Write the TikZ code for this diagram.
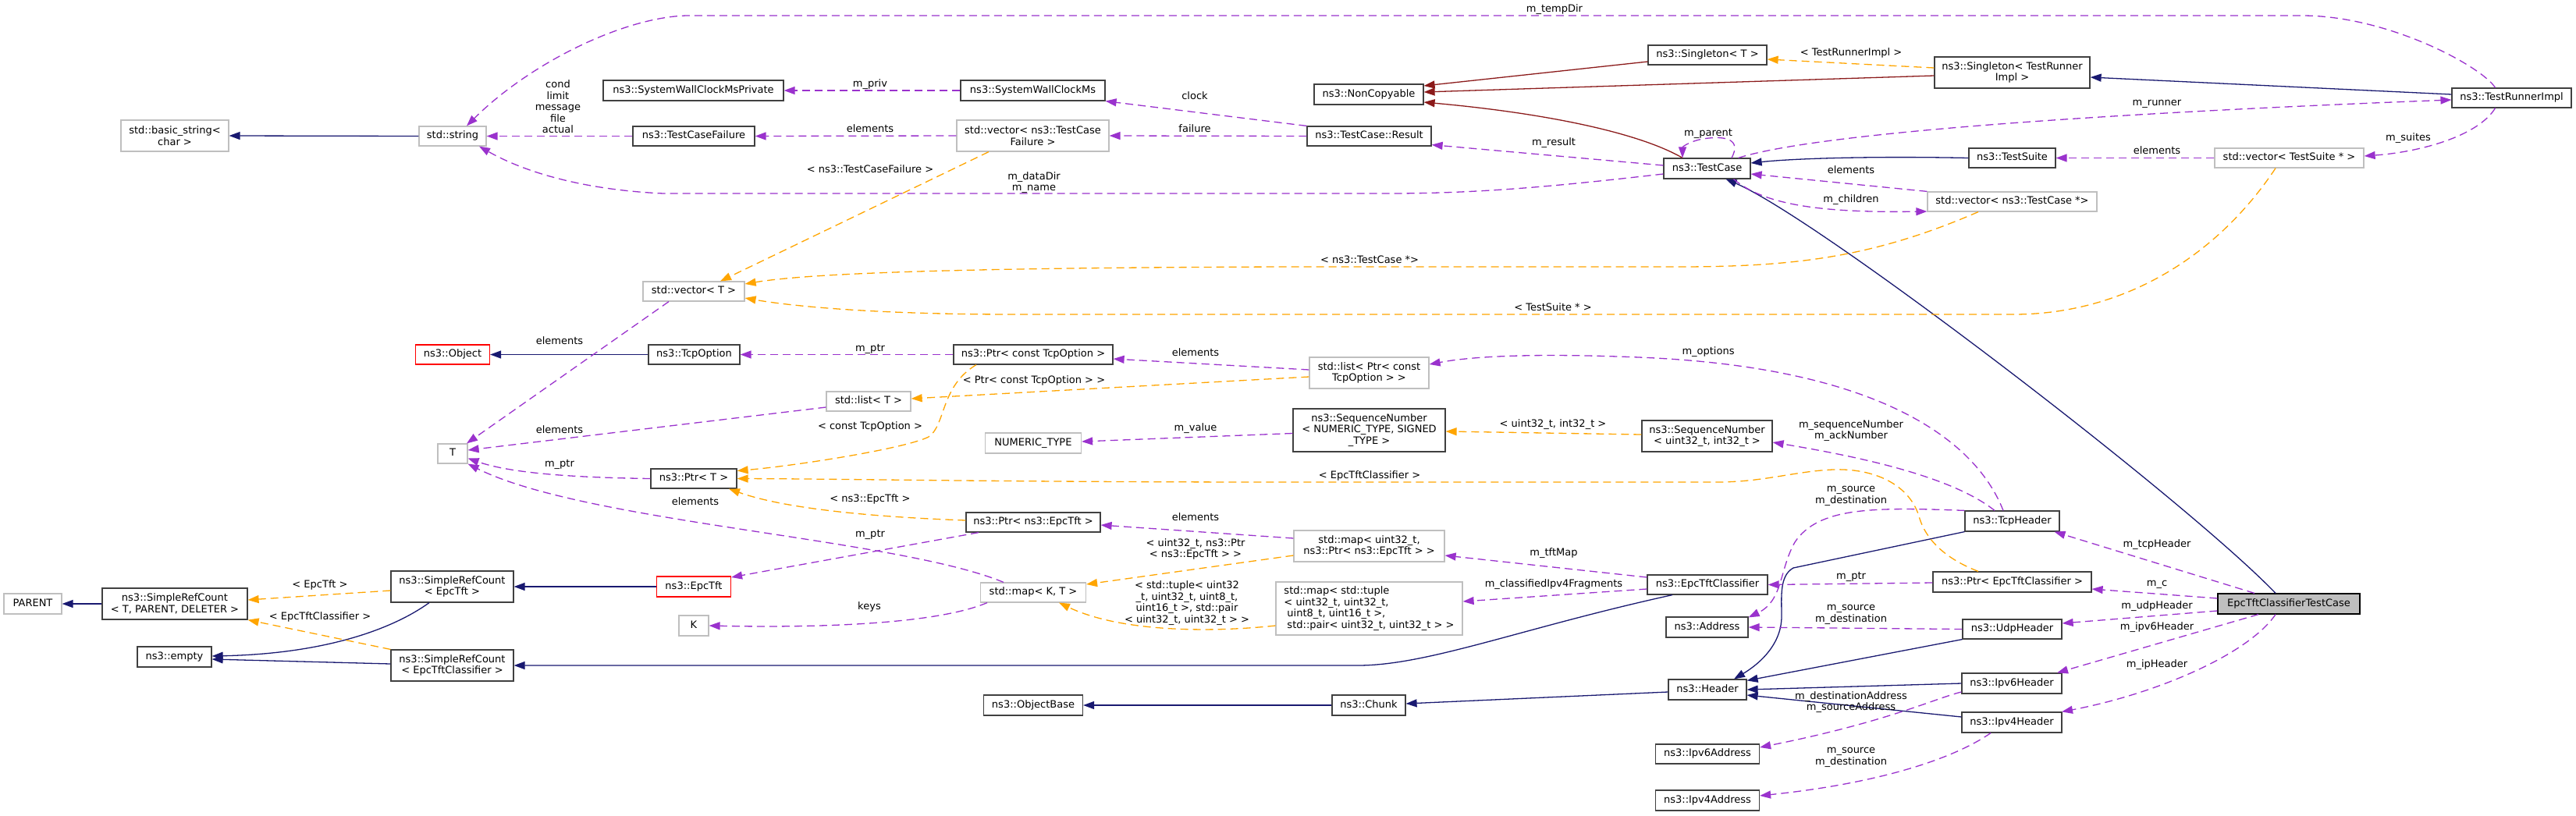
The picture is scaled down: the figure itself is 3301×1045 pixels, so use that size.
\documentclass[tikz,border=0pt]{standalone}
\usepackage{fontspec}
\setmainfont{DejaVu Sans}
\usetikzlibrary{arrows.meta}
\definecolor{cpurple}{HTML}{9A32CD}
\definecolor{corange}{HTML}{FFA500}
\definecolor{cblue}{HTML}{191970}
\definecolor{cred}{HTML}{8B1A1A}
\definecolor{cgrayb}{HTML}{BFBFBF}
\definecolor{cdark}{HTML}{404040}
\newcommand{\dgfont}{\fontsize{13pt}{14.5pt}\selectfont}
\tikzset{
  box/.style={draw=cdark, line width=1.2pt, fill=white, inner sep=0pt, font=\dgfont},
  one/.style={text height=9.6pt, text depth=3pt},
  undoc/.style={draw=cgrayb},
  trunc/.style={draw=red},
  mainc/.style={fill=cgrayb, draw=black},
  sz/.style 2 args={minimum width=#1pt, minimum height=#2pt},
  lbl/.style={font=\dgfont, inner sep=0pt, align=center},
  tip/.style={-{Triangle[length=14pt,width=10pt]}},
  inh/.style={draw=cblue, line width=1.3pt, tip},
  prv/.style={draw=cred, line width=1.3pt, tip},
  use/.style={draw=cpurple, line width=1.3pt, dash pattern=on 10pt off 6pt, tip},
  tpl/.style={draw=corange, line width=1.3pt, dash pattern=on 10pt off 6pt, tip},
}
\begin{document}
\begin{tikzpicture}[x=1pt, y=-1pt]
\useasboundingbox (0,0) rectangle (3301,1045);
% ---------------- nodes ----------------
\node[box,undoc,sz={138}{40},align=center] (bstr) at (224,174) {std::basic\_string<\\char >};
\node[box,undoc,one,sz={86}{25}] (strg) at (580,174.5) {std::string};
\node[box,one,sz={231}{26}] (swcp) at (888.5,116) {ns3::SystemWallClockMsPrivate};
\node[box,one,sz={156}{25}] (tcf) at (889,174.5) {ns3::TestCaseFailure};
\node[box,one,sz={185}{26}] (swc) at (1323.5,116) {ns3::SystemWallClockMs};
\node[box,undoc,sz={195}{40},align=center] (vtcf) at (1323.5,174) {std::vector< ns3::TestCase\\Failure >};
\node[box,one,sz={140}{26}] (nonc) at (1754,121) {ns3::NonCopyable};
\node[box,one,sz={159}{25}] (res) at (1754.5,174.5) {ns3::TestCase::Result};
\node[box,one,sz={152}{25}] (sgt) at (2188,70.5) {ns3::Singleton< T >};
\node[box,one,sz={111}{26}] (tc) at (2187.5,216) {ns3::TestCase};
\node[box,sz={199}{40},align=center] (sgtr) at (2578.5,93) {ns3::Singleton< TestRunner\\Impl >};
\node[box,one,sz={153}{25}] (tri) at (3218.5,125.5) {ns3::TestRunnerImpl};
\node[box,one,sz={111}{25}] (ts) at (2578.5,202.5) {ns3::TestSuite};
\node[box,undoc,one,sz={191}{25}] (vts) at (2933.5,202.5) {std::vector< TestSuite * >};
\node[box,undoc,one,sz={217}{25}] (vtc) at (2578.5,258.5) {std::vector< ns3::TestCase *>};
\node[box,undoc,one,sz={130}{25}] (vt) at (889,373.5) {std::vector< T >};
\node[box,trunc,one,sz={95}{25}] (obj) at (580,454.5) {ns3::Object};
\node[box,one,sz={117}{25}] (tcpo) at (889.5,454.5) {ns3::TcpOption};
\node[box,one,sz={204}{25}] (ptco) at (1324,454.5) {ns3::Ptr< const TcpOption >};
\node[box,undoc,sz={153}{40},align=center] (lptco) at (1754.5,478) {std::list< Ptr< const\\TcpOption > >};
\node[box,undoc,one,sz={108}{25}] (lt) at (1113,514.5) {std::list< T >};
\node[box,undoc,one,sz={38}{25}] (T) at (580,581.5) {T};
\node[box,undoc,one,sz={123}{26}] (numt) at (1324,568) {NUMERIC\_TYPE};
\node[box,sz={195}{55},align=center] (sqn) at (1754.5,551.5) {ns3::SequenceNumber\\< NUMERIC\_TYPE, SIGNED\\\_TYPE >};
\node[box,sz={167}{40},align=center] (sqnu) at (2187.5,559) {ns3::SequenceNumber\\< uint32\_t, int32\_t >};
\node[box,one,sz={110}{25}] (ptt) at (889,613.5) {ns3::Ptr< T >};
\node[box,one,sz={172}{25}] (ptet) at (1324,669.5) {ns3::Ptr< ns3::EpcTft >};
\node[box,undoc,sz={193}{40},align=center] (mapu) at (1754.5,700) {std::map< uint32\_t,\\ns3::Ptr< ns3::EpcTft > >};
\node[box,one,sz={121}{26}] (tcph) at (2578.5,668) {ns3::TcpHeader};
\node[box,undoc,one,sz={74}{26}] (parent) at (42,774) {PARENT};
\node[box,sz={186}{40},align=center] (srct) at (224,774) {ns3::SimpleRefCount\\< T, PARENT, DELETER >};
\node[box,one,sz={95}{26}] (empty) at (223.5,842) {ns3::empty};
\node[box,sz={157}{40},align=center] (srce) at (579.5,752) {ns3::SimpleRefCount\\< EpcTft >};
\node[box,sz={157}{40},align=center] (srcc) at (579.5,853) {ns3::SimpleRefCount\\< EpcTftClassifier >};
\node[box,trunc,one,sz={95}{26}] (etft) at (889,752) {ns3::EpcTft};
\node[box,undoc,one,sz={135}{25}] (mapkt) at (1324,759.5) {std::map< K, T >};
\node[box,undoc,one,sz={38}{26}] (K) at (889,802) {K};
\node[box,one,sz={127}{26}] (objb) at (1324,904) {ns3::ObjectBase};
\node[box,undoc,sz={239}{68},align=left] (mapt) at (1754.5,780) {std::map< std::tuple\\< uint32\_t, uint32\_t,\\\hspace*{4pt}uint8\_t, uint16\_t >,\\\hspace*{4pt}std::pair< uint32\_t, uint32\_t > >};
\node[box,one,sz={154}{25}] (etc) at (2188,749.5) {ns3::EpcTftClassifier};
\node[box,one,sz={105}{26}] (addr) at (2187.5,804) {ns3::Address};
\node[box,one,sz={100}{26}] (hdr) at (2188,884) {ns3::Header};
\node[box,one,sz={94}{26}] (chunk) at (1754,904) {ns3::Chunk};
\node[box,one,sz={133}{25}] (ip6a) at (2188,966.5) {ns3::Ipv6Address};
\node[box,one,sz={133}{26}] (ip4a) at (2188,1026) {ns3::Ipv4Address};
\node[box,one,sz={203}{26}] (petc) at (2578.5,746) {ns3::Ptr< EpcTftClassifier >};
\node[box,mainc,one,sz={182}{26}] (main) at (2933,774) {EpcTftClassifierTestCase};
\node[box,one,sz={127}{25}] (udph) at (2578.5,806.5) {ns3::UdpHeader};
\node[box,one,sz={128}{26}] (ip6h) at (2578,876) {ns3::Ipv6Header};
\node[box,one,sz={128}{26}] (ip4h) at (2578,926) {ns3::Ipv4Header};
% ---------------- inheritance ----------------
\draw[inh] (strg.west) -- (bstr.east);
\draw[inh] (tcpo.west) -- (obj.east);
\draw[inh] (srct.west) -- (parent.east);
\draw[inh] ([xshift=-29.5pt]srce.south) .. controls (505,805) and (420,838) .. ([yshift=1pt]empty.east);
\draw[inh] ([yshift=2pt]srcc.west) -- ([yshift=-3pt]empty.east);
\draw[inh] (etft.west) -- (srce.east);
\draw[inh] ([xshift=-45pt]etc.south) .. controls (1950,805) and (1830,853) .. (1740,853) -- (srcc.east);
\draw[inh] (chunk.west) -- (objb.east);
\draw[inh] ([yshift=-3pt]hdr.west) -- ([yshift=2pt]chunk.east);
\draw[inh] (tcph.south west) -- (2298,728) .. controls (2280,738) and (2283,765) .. (2283,790) .. controls (2283,830) and (2248,855) .. ([xshift=34pt]hdr.north);
\draw[inh] (udph.south west) -- ([yshift=-2pt]hdr.north east);
\draw[inh] (ip6h.west) -- (hdr.east);
\draw[inh] ([yshift=7pt]ip4h.west) -- ([yshift=-7pt]hdr.east);
\draw[inh] (ts.west) .. controls (2400,200) and (2300,203) .. ([yshift=7pt]tc.east);
\draw[inh] ([xshift=-17pt]main.north) .. controls (2800,640) and (2330,280) .. ([xshift=24pt]tc.south);
\draw[inh] ([yshift=4.5pt]tri.west) -- ([yshift=-6pt]sgtr.east);
\draw[prv] ([yshift=-8.5pt]sgt.west) -- ([yshift=11pt]nonc.east);
\draw[prv] ([yshift=-4pt]sgtr.west) -- ([yshift=3pt]nonc.east);
\draw[prv] ([xshift=-31.5pt]tc.north) .. controls (2100,170) and (1980,145) .. ([yshift=-10pt]nonc.east);
% ---------------- template instances ----------------
\draw[tpl] ([yshift=6pt]sgtr.west) -- ([yshift=-5.5pt]sgt.east);
\draw[tpl] ([xshift=-56.5pt]vtcf.south) -- ([xshift=34pt]vt.north);
\draw[tpl] ([xshift=-43.5pt]vtc.south) .. controls (2400,330) and (2300,342) .. (2150,342) -- (1650,342) .. controls (1300,343) and (1050,348) .. ([yshift=9.5pt]vt.east);
\draw[tpl] ([xshift=-17.5pt]vts.south) .. controls (2840,330) and (2720,403) .. (2580,403) -- (1300,403) .. controls (1100,403) and (1000,390) .. ([yshift=-8.5pt]vt.east);
\draw[tpl] ([xshift=-73pt]ptco.south) .. controls (1205,495) and (1212,545) .. (1190,560) .. controls (1160,575) and (1020,597) .. ([yshift=10pt]ptt.east);
\draw[tpl] ([yshift=-5pt]lptco.west) -- ([yshift=3.5pt]lt.east);
\draw[tpl] ([yshift=2pt]sqnu.west) -- ([yshift=-1.5pt]sqn.east);
\draw[tpl] ([yshift=2.5pt]ptet.west) .. controls (1100,662) and (1000,650) .. ([xshift=45pt]ptt.south);
\draw[tpl] ([xshift=-43.5pt]petc.north) .. controls (2490,715) and (2468,690) .. (2460,665) .. controls (2448,620) and (2400,600) .. (2349,602) .. controls (2300,604) and (2260,618) .. (2200,618) -- (1650,618) .. controls (1300,618) and (1100,614) .. (ptt.east);
\draw[tpl] ([yshift=-12pt]mapu.west) -- ([yshift=10.5pt]mapkt.east);
\draw[tpl] ([yshift=-22pt]mapt.west) .. controls (1560,810) and (1440,812) .. ([xshift=33pt]mapkt.south);
\draw[tpl] ([yshift=-5pt]srce.west) -- ([yshift=5pt]srct.east);
\draw[tpl] (srcc.north west) -- (srct.south east);
% ---------------- usage ----------------
\draw[use] (swc.west) -- (swcp.east);
\draw[use] (res.north west) -- (swc.south east);
\draw[use] (res.west) -- (vtcf.east);
\draw[use] (vtcf.west) -- (tcf.east);
\draw[use] (tcf.west) -- (strg.east);
\draw[use] ([yshift=4pt]tc.west) -- ([yshift=2pt]res.south east);
\draw[use] ([yshift=-7pt]tc.west) .. controls (2000,238) and (1900,248) .. (1780,248) -- (850,248) .. controls (760,244) and (680,225) .. ([xshift=34pt]strg.south);
\draw[use] ([xshift=31.5pt]tc.north) .. controls (2232,178) and (2210,175) .. (2190,177) .. controls (2168,179) and (2156,188) .. ([xshift=-31.5pt]tc.north);
\draw[use] ([xshift=40pt]tc.north) .. controls (2330,170) and (2700,145) .. ([yshift=-2.5pt]tri.west);
\draw[use] ([xshift=-21pt]tri.north) .. controls (3180,85) and (3060,20) .. (2950,20) -- (880,20) .. controls (800,22) and (680,80) .. ([xshift=18pt]strg.north);
\draw[use] ([xshift=-21pt]tri.south) .. controls (3175,175) and (3100,195) .. ([yshift=2.5pt]vts.east);
\draw[use] (vts.west) -- (ts.east);
\draw[use] (vtc.north west) -- ([yshift=-7pt]tc.east);
\draw[use] ([xshift=34pt]tc.south) .. controls (2260,262) and (2330,273) .. ([yshift=-12.5pt]vtc.west);
\draw[use] ([xshift=-32pt]vt.south) -- ([xshift=18pt]T.north);
\draw[use] (ptco.west) -- (tcpo.east);
\draw[use] ([yshift=4pt]lptco.west) -- ([yshift=-5.5pt]ptco.east);
\draw[use] ([yshift=-7.5pt]lt.west) -- ([yshift=4.5pt]T.east);
\draw[use] (ptt.west) .. controls (720,612) and (650,605) .. ([yshift=-6pt]T.east);
\draw[use] ([xshift=-38pt]mapkt.north) .. controls (1150,690) and (750,670) .. (T.south east);
\draw[use] ([xshift=-59pt]mapkt.south) .. controls (1200,800) and (1050,805) .. (K.east);
\draw[use] ([yshift=-4pt]sqn.west) -- ([yshift=2pt]numt.east);
\draw[use] ([xshift=-11.5pt]tcph.north) .. controls (2530,560) and (2400,470) .. (2100,458) .. controls (1950,452) and (1880,458) .. ([yshift=11pt]lptco.east);
\draw[use] ([xshift=-22.5pt]tcph.north) .. controls (2500,610) and (2380,585) .. ([yshift=-8pt]sqnu.east);
\draw[use] (tcph.north west) .. controls (2400,650) and (2330,650) .. (2300,695) .. controls (2280,730) and (2285,770) .. ([yshift=-1pt]addr.north east);
\draw[use] ([yshift=-1pt]petc.west) -- (etc.east);
\draw[use] ([yshift=9.5pt]etc.west) -- ([yshift=-12pt]mapu.east);
\draw[use] ([yshift=-5.5pt]etc.west) -- ([yshift=9pt]mapt.east);
\draw[use] ([yshift=10pt]mapu.west) -- ([yshift=-3.5pt]ptet.east);
\draw[use] ([xshift=-70pt]ptet.south) -- ([yshift=12pt]etft.east);
\draw[use] (udph.west) -- (addr.east);
\draw[use] ([yshift=-11pt]ip6h.west) .. controls (2480,895) and (2420,925) .. ([yshift=8.5pt]ip6a.east);
\draw[use] ([xshift=-27pt]ip4h.south) .. controls (2500,975) and (2400,1005) .. ([yshift=6pt]ip4a.east);
\draw[use] ([xshift=-44pt]main.north) -- ([xshift=54pt]tcph.south);
\draw[use] ([yshift=7pt]main.west) -- ([yshift=-9pt]petc.east);
\draw[use] ([yshift=-9pt]main.west) -- ([yshift=7.5pt]udph.east);
\draw[use] ([xshift=-39pt]main.south) -- ([xshift=58pt]ip6h.north);
\draw[use] ([xshift=-17pt]main.south) .. controls (2880,840) and (2760,890) .. ([xshift=64pt]ip4h.north);
% ---------------- labels ----------------
\node[lbl] (L1) at (715,137) {cond\\limit\\message\\file\\actual};
\node[lbl,one] (L2) at (1115,108) {m\_priv};
\node[lbl,one] (L3) at (1531,124) {clock};
\node[lbl,one] (L4) at (1115,166) {elements};
\node[lbl,one] (L5) at (1531,166) {failure};
\node[lbl,one] (L6) at (1115,218) {< ns3::TestCaseFailure >};
\node[lbl] (L7) at (1325,234) {m\_dataDir\\m\_name};
\node[lbl,one] (L8) at (1992,12) {m\_tempDir};
\node[lbl,one] (L9) at (2372,68) {< TestRunnerImpl >};
\node[lbl,one] (L10) at (1991,183) {m\_result};
\node[lbl,one] (L11) at (2189,171) {m\_parent};
\node[lbl,one] (L12) at (2372,219) {elements};
\node[lbl,one] (L13) at (2372,256) {m\_children};
\node[lbl,one] (L14) at (1755,334) {< ns3::TestCase *>};
\node[lbl,one] (L15) at (2764,132) {m\_runner};
\node[lbl,one] (L16) at (2764,194) {elements};
\node[lbl,one] (L17) at (3086,177) {m\_suites};
\node[lbl,one] (L18) at (717,438) {elements};
\node[lbl,one] (L19) at (717,552) {elements};
\node[lbl,one] (L20) at (717,595) {m\_ptr};
\node[lbl,one] (L21) at (1115,447) {m\_ptr};
\node[lbl,one] (L22) at (1532,453) {elements};
\node[lbl,one] (L23) at (1325,488) {< Ptr< const TcpOption > >};
\node[lbl,one] (L24) at (1115,547) {< const TcpOption >};
\node[lbl,one] (L25) at (1532,549) {m\_value};
\node[lbl,one] (L26) at (891,644) {elements};
\node[lbl,one] (L27) at (1115,640) {< ns3::EpcTft >};
\node[lbl,one] (L28) at (1532,664) {elements};
\node[lbl,one] (L29) at (1115,685) {m\_ptr};
\node[lbl] (L30) at (1532,704) {< uint32\_t, ns3::Ptr\\< ns3::EpcTft > >};
\node[lbl,one] (L31) at (1990,395) {< TestSuite * >};
\node[lbl,one] (L32) at (2189,451) {m\_options};
\node[lbl,one] (L33) at (1990,544) {< uint32\_t, int32\_t >};
\node[lbl] (L34) at (2372,552) {m\_sequenceNumber\\m\_ackNumber};
\node[lbl,one] (L35) at (1755,610) {< EpcTftClassifier >};
\node[lbl] (L36) at (2372,636) {m\_source\\m\_destination};
\node[lbl,one] (L37) at (2764,698) {m\_tcpHeader};
\node[lbl,one] (L38) at (410,750) {< EpcTft >};
\node[lbl,one] (L39) at (410,791) {< EpcTftClassifier >};
\node[lbl,one] (L40) at (1114,778) {keys};
\node[lbl] (L41) at (1521,773) {< std::tuple< uint32\\\_t, uint32\_t, uint8\_t,\\uint16\_t >, std::pair\\< uint32\_t, uint32\_t > >};
\node[lbl,one] (L42) at (1991,709) {m\_tftMap};
\node[lbl,one] (L43) at (1991,749) {m\_classifiedIpv4Fragments};
\node[lbl,one] (L44) at (2372,739) {m\_ptr};
\node[lbl] (L45) at (2372,788) {m\_source\\m\_destination};
\node[lbl] (L46) at (2372,900) {m\_destinationAddress\\m\_sourceAddress};
\node[lbl] (L47) at (2372,971) {m\_source\\m\_destination};
\node[lbl,one] (L48) at (2764,748) {m\_c};
\node[lbl,one] (L49) at (2764,777) {m\_udpHeader};
\node[lbl,one] (L50) at (2764,804) {m\_ipv6Header};
\node[lbl,one] (L51) at (2764,852) {m\_ipHeader};
\end{tikzpicture}
\end{document}
